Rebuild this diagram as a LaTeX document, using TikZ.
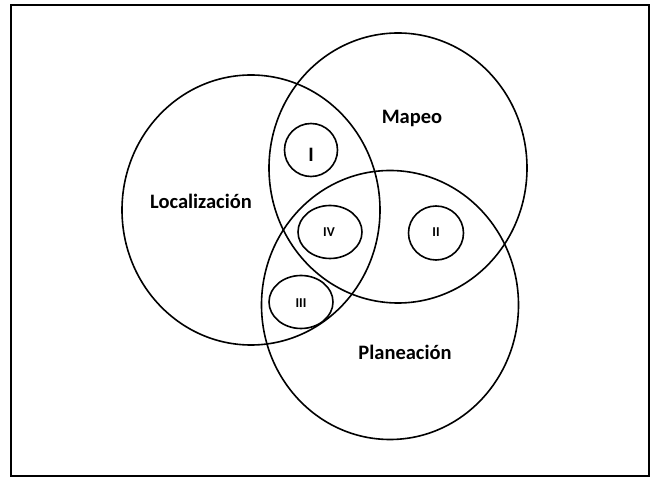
\documentclass[tikz,border=0pt]{standalone}
\usepackage{fontspec}
\setmainfont{Carlito}
\usetikzlibrary{shapes.geometric}
\begin{document}
\begin{tikzpicture}[x=1pt,y=-1pt,
  ring/.style={draw=black, line width=1.6pt, ellipse, inner sep=0pt},
  biglabel/.style={font=\fontsize{20.5}{24}\selectfont\bfseries, inner sep=0pt},
  smalllabel/.style={font=\fontsize{13.5}{16}\selectfont\bfseries, inner sep=0pt}]
\useasboundingbox (0,0) rectangle (654,478);
% frame
\draw[line width=1.8pt] (11,5) rectangle (649,476);
% the three sets
\node[ring, minimum width=258, minimum height=270] (loc) at (251,210) {};
\node[ring, minimum width=258, minimum height=270] (map) at (398,168) {};
\node[ring, minimum width=257, minimum height=269] (plan) at (390,305) {};
% the four regions
\node[ring, minimum width=53, minimum height=53] (r1) at (311,150) {};
\node[ring, minimum width=55, minimum height=54] (r2) at (436,233) {};
\node[ring, minimum width=64, minimum height=53] (r3) at (301,302) {};
\node[ring, minimum width=64, minimum height=53] (r4) at (330,232) {};
% set names
\node[biglabel] (tloc) at (201,201) {Localización};
\node[biglabel] (tmap) at (412,118) {Mapeo};
\node[biglabel] (tplan) at (405,352) {Planeación};
% region numbers
\node[biglabel] (t1) at (311,155) {I};
\node[smalllabel] (t2) at (436,232) {II};
\node[smalllabel] (t3) at (301,303) {III};
\node[smalllabel] (t4) at (329,232) {IV};
\end{tikzpicture}
\end{document}
